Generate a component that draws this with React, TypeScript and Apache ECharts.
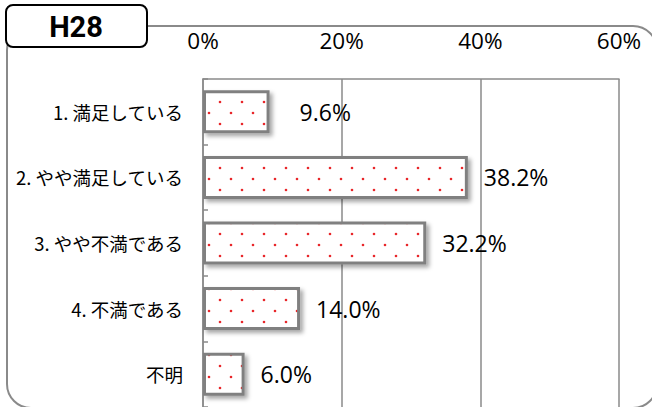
import React, { useEffect, useRef } from "react";
import * as echarts from "echarts";

const categories = ["1. 満足している", "2. やや満足している", "3. やや不満である", "4. 不満である", "不明"];
const values = [9.6, 38.2, 32.2, 14.0, 6.0];
const labelDistances = [30, 16, 16, 16, 16];
const xTicks = { min: 0, max: 60, interval: 20 };
const titleText = "H28";

function makePattern(): HTMLCanvasElement {
  const c = document.createElement("canvas");
  c.width = 22;
  c.height = 22;
  const ctx = c.getContext("2d")!;
  ctx.fillStyle = "#ffffff";
  ctx.fillRect(0, 0, 22, 22);
  ctx.fillStyle = "#e8282b";
  const dots = [
    [11, 3],
    [0, 14],
    [22, 14],
  ];
  dots.forEach(([x, y]) => {
    ctx.beginPath();
    ctx.arc(x, y, 1.3, 0, Math.PI * 2);
    ctx.fill();
  });
  return c;
}

export default function App() {
  const ref = useRef<HTMLDivElement>(null);
  useEffect(() => {
    if (!ref.current) return;
    const chart = echarts.init(ref.current, null, { renderer: "svg" });
    const pattern = makePattern();
    const gray = "#8a8a8a";
    chart.setOption({
      animation: false,
      backgroundColor: "#ffffff",
      grid: { left: 203, top: 79, width: 416, height: 330, containLabel: false },
      xAxis: {
        type: "value",
        position: "top",
        min: xTicks.min,
        max: xTicks.max,
        interval: xTicks.interval,
        axisLine: { show: true, lineStyle: { color: gray, width: 1.5 } },
        axisTick: { show: false },
        splitLine: { show: true, lineStyle: { color: gray, width: 1.5 } },
        axisLabel: {
          formatter: "{value}%",
          margin: 27,
          color: "#000",
          fontSize: 22.5,
          fontFamily: "Open Sans",
        },
      },
      yAxis: {
        type: "category",
        inverse: true,
        data: categories,
        axisLine: { show: true, lineStyle: { color: gray, width: 1.5 } },
        axisTick: { show: true, inside: true, length: 5, lineStyle: { color: gray, width: 1.5 } },
        axisLabel: {
          margin: 20,
          color: "#000",
          fontSize: 18.5,
          fontFamily: "Noto Sans CJK JP",
        },
      },
      series: [
        {
          type: "bar",
          barWidth: 43,
          data: values.map((v, i) => ({
            value: v,
            label: { distance: labelDistances[i] },
          })),
          itemStyle: {
            color: { image: pattern, repeat: "repeat" },
            borderColor: "#808080",
            borderWidth: 3,
            shadowColor: "rgba(0,0,0,0.35)",
            shadowBlur: 4,
            shadowOffsetX: 3,
            shadowOffsetY: 3,
          },
          label: {
            show: true,
            position: "right",
            formatter: (p: any) => p.value.toFixed(1) + "%",
            color: "#000",
            fontSize: 23,
            fontFamily: "Open Sans",
          },
        },
      ],
      graphic: [
        {
          type: "rect",
          z: -10,
          shape: { x: 7, y: 26, width: 650, height: 382, r: 24 },
          style: { fill: "none", stroke: gray, lineWidth: 2 },
          silent: true,
        },
        {
          type: "rect",
          z: 100,
          shape: { x: 6, y: 5, width: 141, height: 42, r: 7 },
          style: { fill: "#ffffff", stroke: "#000000", lineWidth: 2 },
          silent: true,
        },
        {
          type: "text",
          z: 101,
          x: 76,
          y: 27,
          style: {
            text: titleText,
            fill: "#000",
            font: "bold 29px Roboto",
            textAlign: "center",
            textVerticalAlign: "middle",
          },
          silent: true,
        },
      ],
    });
    return () => chart.dispose();
  }, []);
  return <div ref={ref} style={{ width: 652, height: 407, position: "absolute", left: 0, top: 0 }} />;
}
